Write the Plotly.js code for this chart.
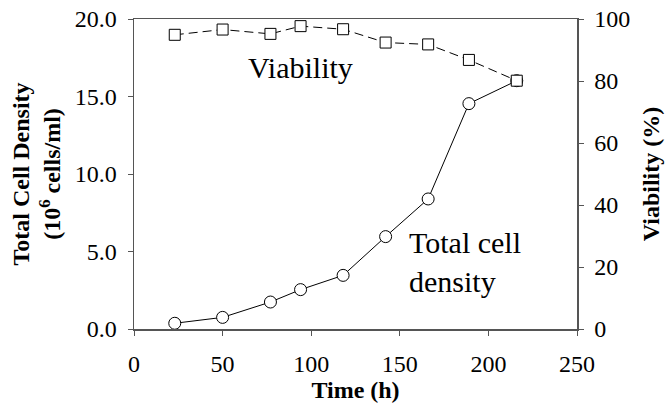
<!DOCTYPE html>
<html>
<head>
<meta charset="utf-8">
<script src="https://cdn.plot.ly/plotly-3.0.1.min.js"></script>
<style>html,body{margin:0;padding:0;background:#fff}#chart{width:668px;height:414px}</style>
</head>
<body>
<div id="chart"></div>
<script>
const timeH = [23, 50, 77, 94, 118, 142, 166, 189, 216];
const totalCellDensity = [0.37, 0.75, 1.74, 2.54, 3.46, 5.96, 8.39, 14.54, 16.02];
const viability = [94.9, 96.6, 95.2, 97.7, 96.7, 92.4, 91.8, 86.8, 80.1];
const xTicks = [0, 50, 100, 150, 200, 250];
const yTicks = [0, 5, 10, 15, 20];
const y2Ticks = [0, 20, 40, 60, 80, 100];

const FONT = 'Liberation Serif, Times New Roman, serif';
const AX = '#555';

const traces = [
  {
    x: timeH, y: totalCellDensity, type: 'scatter', mode: 'lines+markers',
    name: 'Total cell density', yaxis: 'y',
    line: {color: '#000', width: 1},
    marker: {symbol: 'circle', size: 12, color: '#fff', line: {color: '#000', width: 1}}
  },
  {
    x: timeH, y: viability, type: 'scatter', mode: 'lines+markers',
    name: 'Viability', yaxis: 'y2',
    line: {color: '#000', width: 1, dash: '9px,5px'},
    marker: {symbol: 'square', size: 11, color: '#fff', line: {color: '#000', width: 1}}
  }
];

const layout = {
  width: 668, height: 414,
  margin: {l: 134, r: 91, t: 19, b: 85},
  paper_bgcolor: '#fff', plot_bgcolor: '#fff',
  showlegend: false,
  font: {family: FONT, color: '#000', size: 22},
  xaxis: {
    range: [0, 250], tickvals: xTicks,
    showgrid: false, zeroline: false,
    showline: true, linecolor: AX, linewidth: 1.5, mirror: true,
    ticks: 'outside', ticklen: 5, tickcolor: AX, ticklabelstandoff: 8,
    tickfont: {family: FONT, size: 24, color: '#000'},
    title: {text: '<b>Time (h)</b>', font: {family: FONT, size: 24, color: '#000'}, standoff: 2}
  },
  yaxis: {
    range: [0, 20], tickvals: yTicks, tickformat: '.1f',
    showgrid: false, zeroline: false,
    showline: true, linecolor: AX, linewidth: 1.5,
    ticks: 'outside', ticklen: 5, tickcolor: AX, ticklabelstandoff: 6,
    tickfont: {family: FONT, size: 24, color: '#000'},
    title: {text: '<b>Total Cell Density<br>(10<sup>6</sup> cells/ml)</b>', font: {family: FONT, size: 24, color: '#000'}, standoff: 7}
  },
  yaxis2: {
    range: [0, 100], tickvals: y2Ticks,
    overlaying: 'y', side: 'right',
    showgrid: false, zeroline: false,
    showline: true, linecolor: AX, linewidth: 1.5,
    ticks: 'outside', ticklen: 5, tickcolor: AX, ticklabelstandoff: 6,
    tickfont: {family: FONT, size: 24, color: '#000'},
    title: {text: '<b>Viability (%)</b>', font: {family: FONT, size: 24, color: '#000'}, standoff: 13}
  },
  annotations: [
    {x: 94, y: 16.9, xref: 'x', yref: 'y', showarrow: false, text: 'Viability',
     xanchor: 'center', yanchor: 'middle', font: {family: FONT, size: 30, color: '#000'}},
    {x: 154, y: 4.3, xref: 'x', yref: 'y', showarrow: false, text: 'Total cell<br>density',
     align: 'left', xanchor: 'left', yanchor: 'middle', font: {family: FONT, size: 30, color: '#000'}}
  ]
};

Plotly.newPlot('chart', traces, layout, {displayModeBar: false, staticPlot: true});
</script>
</body>
</html>
